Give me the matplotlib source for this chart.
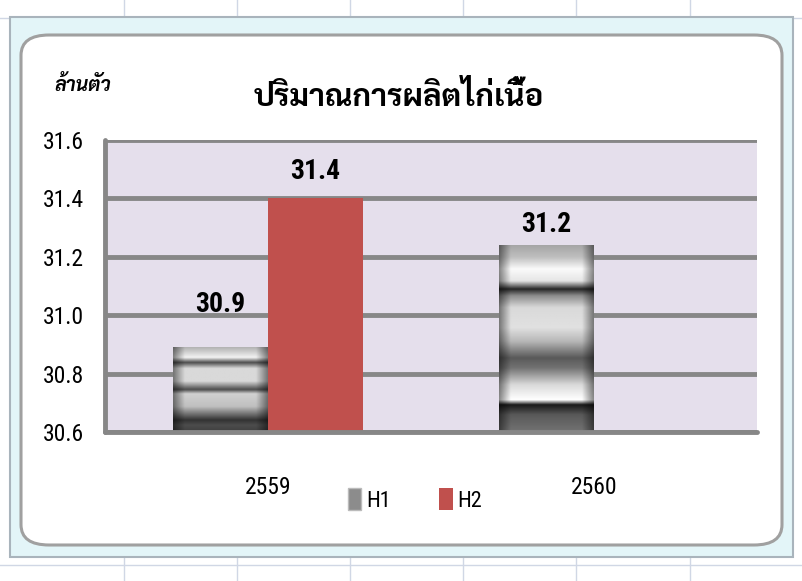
import numpy as np
import matplotlib
matplotlib.use("Agg")
import matplotlib.pyplot as plt
from matplotlib.patches import FancyBboxPatch, Rectangle, Patch

# data
years = ["2559", "2560"]
h1 = [30.89, 31.24]
h2 = [31.40, np.nan]
labels_h1 = ["30.9", "31.2"]
labels_h2 = ["31.4", ""]
series_names = ["H1", "H2"]
y_ticks = [30.6, 30.8, 31.0, 31.2, 31.4, 31.6]
title = "ปริมาณการผลิตไก่เนื้อ"
unit = "ล้านตัว"

narrow = ["Roboto Condensed", "Liberation Sans", "DejaVu Sans"]
thai_family = ["Sarabun", "DejaVu Sans"]

fig = plt.figure(figsize=(8.03, 5.81), dpi=100)
fig.patch.set_facecolor("white")

# excel sheet grid behind the chart
for gx in [124, 237, 350, 463, 576, 690]:
    fig.add_artist(plt.Line2D([gx / 803, gx / 803], [0, 1], color="#D0D7E5", lw=1, zorder=-3))
for gy in [18, 565]:
    fig.add_artist(plt.Line2D([0, 1], [1 - gy / 581, 1 - gy / 581], color="#D0D7E5", lw=1, zorder=-3))

# selection frame and rounded chart area
fig.add_artist(Rectangle((10 / 803, 1 - 557 / 581), 783 / 803, 540 / 581,
                         transform=fig.transFigure, facecolor="#E3F5F8",
                         edgecolor="#A9B4BC", lw=1.5, zorder=-2))
fig.add_artist(FancyBboxPatch((21 / 803, 1 - 545 / 581), 761 / 803, 510 / 581,
                              boxstyle="round,pad=0,rounding_size=0.035",
                              transform=fig.transFigure, facecolor="white",
                              edgecolor="#A0A0A0", lw=2.2, zorder=-1))

ax = fig.add_axes([105 / 803, 1 - 432 / 581, 652 / 803, 292 / 581])
ax.set_zorder(2)
ax.set_facecolor("#E5DFEC")

x = np.arange(len(years))
w = 0.29
ymin, ymax = 30.6, 31.6

# metallic profiles (value vs relative height, bottom -> top)
prof_tall = ([0, .09, .144, .171, .252, .342, .396, .486, .559, .667, .73, .766, .81, .874, .937, 1],
             [.45, .35, .1, 1, .85, .45, .35, .72, .88, .85, .55, .15, .9, .98, .75, .65])
prof_short = ([0, .08, .14, .3, .45, .5, .6, .75, .82, .88, .95, 1],
              [.25, .3, .2, .75, .82, .3, .85, .85, .3, .95, .8, .7])

def metal(ax, xc, top, prof):
    yy = np.linspace(0, 1, 200)
    v = np.interp(yy, prof[0], prof[1])
    xx = np.linspace(0, 1, 60)
    edge = 0.55 + 0.45 * np.clip(np.minimum(xx, 1 - xx) / 0.12, 0, 1)
    img = v[:, None] * edge[None, :]
    ax.imshow(img, cmap="gray", vmin=0, vmax=1, origin="lower", aspect="auto",
              extent=(xc - w, xc, ymin, top), zorder=2, interpolation="bilinear")

bars1 = ax.bar(x - w / 2, h1, w, color="#9A9A9A", zorder=1.5)
bars2 = ax.bar(x + w / 2, h2, w, color="#C0504D", zorder=2)
metal(ax, x[0], h1[0], prof_short)
metal(ax, x[1], h1[1], prof_tall)

offs1 = [21, 5]
offs2 = [10, 0]
for i in range(len(years)):
    ax.annotate(labels_h1[i], (x[i] - w / 2, h1[i]), xytext=(0, offs1[i]),
                textcoords="offset points", ha="center", va="bottom",
                fontsize=20, fontweight="bold", family=narrow, zorder=5)
    if labels_h2[i]:
        ax.annotate(labels_h2[i], (x[i] + w / 2, h2[i]), xytext=(0, offs2[i]),
                    textcoords="offset points", ha="center", va="bottom",
                    fontsize=20, fontweight="bold", family=narrow, zorder=5)

ax.set_xlim(-0.5, 1.5)
ax.set_ylim(ymin, ymax)
ax.set_yticks(y_ticks)
ax.set_yticklabels([f"{t:.1f}" for t in y_ticks], family=narrow, fontsize=17)
ax.set_xticks(x)
ax.set_xticklabels(years, family=narrow, fontsize=17)
ax.tick_params(length=0, axis="y", pad=15)
ax.tick_params(length=0, axis="x", pad=32)
ax.yaxis.grid(True, color="#878787", lw=3.5, solid_capstyle="round")
ax.set_axisbelow(True)
for s in ["top", "right"]:
    ax.spines[s].set_visible(False)
for s in ["left", "bottom"]:
    ax.spines[s].set_color("#878787")
    ax.spines[s].set_linewidth(3.5)
    ax.spines[s].set_capstyle("round")

handles = [Patch(facecolor="#8C8C8C", edgecolor="#BBBBBB"),
           Patch(facecolor="#C0504D")]
fig.legend(handles, series_names, loc="center", bbox_to_anchor=(415 / 803, 1 - 500 / 581),
           ncol=2, frameon=False, prop={"family": narrow, "size": 16},
           handlelength=0.6, handleheight=1.1, handletextpad=0.2, columnspacing=2.2)

fig.text(399 / 803, 1 - 98 / 581, title, ha="center", va="center",
         fontsize=22.5, fontweight="bold", family=thai_family)
fig.text(83 / 803, 1 - 85 / 581, unit, ha="center", va="center",
         fontsize=14, style="italic", fontweight="bold", family=thai_family)

fig.savefig("out.png", dpi=100)
